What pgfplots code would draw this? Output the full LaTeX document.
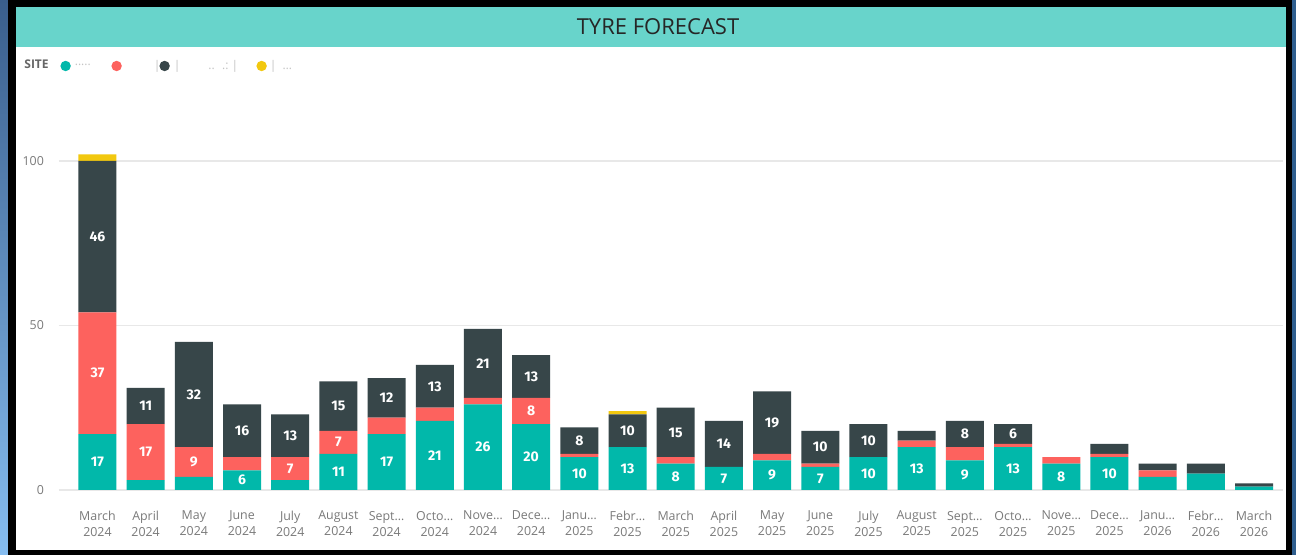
\documentclass[border=0pt]{standalone}
\usepackage{fontspec}
\setmainfont{Open Sans}
\newfontfamily\lblfont{Fira Sans}
\usepackage{pgfplots}
\usepackage{pgfplotstable}
\pgfplotsset{compat=1.18}

\definecolor{pbteal}{HTML}{01B8AA}
\definecolor{pbred}{HTML}{FD625E}
\definecolor{pbdark}{HTML}{374649}
\definecolor{pbyellow}{HTML}{F2C80F}
\definecolor{titlebar}{HTML}{68D4CB}
\definecolor{edgetop}{HTML}{3A5E8C}
\definecolor{edgebot}{HTML}{86BDF0}
\definecolor{edgeright}{HTML}{2F5E8E}
\definecolor{ticktext}{HTML}{7A7A7A}
\definecolor{legfaint}{HTML}{C4C4C4}

% monthly tyre forecast per site (stacked)
\pgfplotstableread{
x  teal red dark yellow
0  17   37  46   2
1  3    17  11   0
2  4    9   32   0
3  6    4   16   0
4  3    7   13   0
5  11   7   15   0
6  17   5   12   0
7  21   4   13   0
8  26   2   21   0
9  20   8   13   0
10 10   1   8    0
11 13   0   10   1
12 8    2   15   0
13 7    0   14   0
14 9    2   19   0
15 7    1   10   0
16 10   0   10   0
17 13   2   3    0
18 9    4   8    0
19 13   1   6    0
20 8    2   0    0
21 10   1   3    0
22 4    2   2    0
23 5    0   3    0
24 1    0   1    0
}\tyres

\begin{document}
\begin{tikzpicture}[x=0.5bp,y=0.5bp]
\useasboundingbox (0,0) rectangle (1296,555);
% frame
\fill[edgeright] (0,0) rectangle (1296,555);
\shade[top color=edgetop,bottom color=edgebot] (0,0) rectangle (8,555);
\fill[black] (8,0) rectangle (1292,555);
\fill[white] (16,5) rectangle (1286,508);
\fill[titlebar] (16,508) rectangle (1286,548);
\node[font=\fontsize{11bp}{13bp}\selectfont, text=black!85] at (658,528) {TYRE FORECAST};

\begin{axis}[
    at={(29.45bp,32.5bp)}, anchor=south west,
    x=24.094bp, y=1.645bp,
    xmin=-0.8, xmax=24.6, ymin=0, ymax=135,
    enlargelimits=false,
    ybar stacked, bar width=19bp,
    axis line style={draw=none},
    major tick length=0pt,
    ytick={0,50,100},
    xtick={0,...,24},
    xticklabels={{March\\2024},{April\\2024},{May\\2024},{June\\2024},{July\\2024},{August\\2024},{Sept…\\2024},{Octo…\\2024},{Nove…\\2024},{Dece…\\2024},{Janu…\\2025},{Febr…\\2025},{March\\2025},{April\\2025},{May\\2025},{June\\2025},{July\\2025},{August\\2025},{Sept…\\2025},{Octo…\\2025},{Nove…\\2025},{Dece…\\2025},{Janu…\\2026},{Febr…\\2026},{March\\2026}},
    ymajorgrids,
    grid style={draw=black!9, line width=0.6bp},
    tick label style={font=\fontsize{6.2bp}{8bp}\selectfont, text=ticktext},
    xticklabel style={align=center, yshift=-7bp},
    yticklabel style={xshift=-4bp},
    /pgf/number format/assume math mode=true,
    point meta=explicit symbolic,
    every node near coord/.append style={font=\lblfont\bfseries\fontsize{7bp}{8bp}\selectfont, text=white, anchor=center},
    legend columns=-1,
    legend cell align=left,
    legend image code/.code={\fill[#1] (2.6bp,0bp) circle (2.6bp);},
    legend style={at={(-0.0285,0.9546)}, anchor=west, draw=none, fill=none, inner sep=0pt,
        nodes={inner sep=0pt}, font=\fontsize{6bp}{7bp}\selectfont},
    clip=false,
]
\addlegendimage{empty legend}
\addlegendentry{\makebox[18bp][l]{\bfseries\textcolor{black!60}{SITE}}}

\addplot[fill=pbteal, draw=none,
    nodes near coords={\ifnum\pgfplotspointmeta<6 \else\pgfplotspointmeta\fi}]
    table[x=x, y=teal, meta=teal] {\tyres};
\addlegendentry{\makebox[20.3bp][l]{\hspace{2bp}\textcolor{legfaint}{.....}}}

\addplot[fill=pbred, draw=none,
    nodes near coords={\ifnum\pgfplotspointmeta<6 \else\pgfplotspointmeta\fi}]
    table[x=x, y=red, meta=red] {\tyres};
\addlegendentry{\makebox[18.8bp][l]{\hspace{16bp}\textcolor{legfaint}{|}}}

\addplot[fill=pbdark, draw=none,
    nodes near coords={\ifnum\pgfplotspointmeta<6 \else\pgfplotspointmeta\fi}]
    table[x=x, y=dark, meta=dark] {\tyres};
\addlegendentry{\makebox[43.3bp][l]{\hspace{2bp}\textcolor{legfaint}{|\hspace{14bp}.. \ .:\ |}}}

\addplot[fill=pbyellow, draw=none]
    table[x=x, y=yellow, meta=yellow] {\tyres};
\addlegendentry{\makebox[20bp][l]{\hspace{1.5bp}\textcolor{legfaint}{| \ …}}}
\end{axis}
\end{tikzpicture}
\end{document}
